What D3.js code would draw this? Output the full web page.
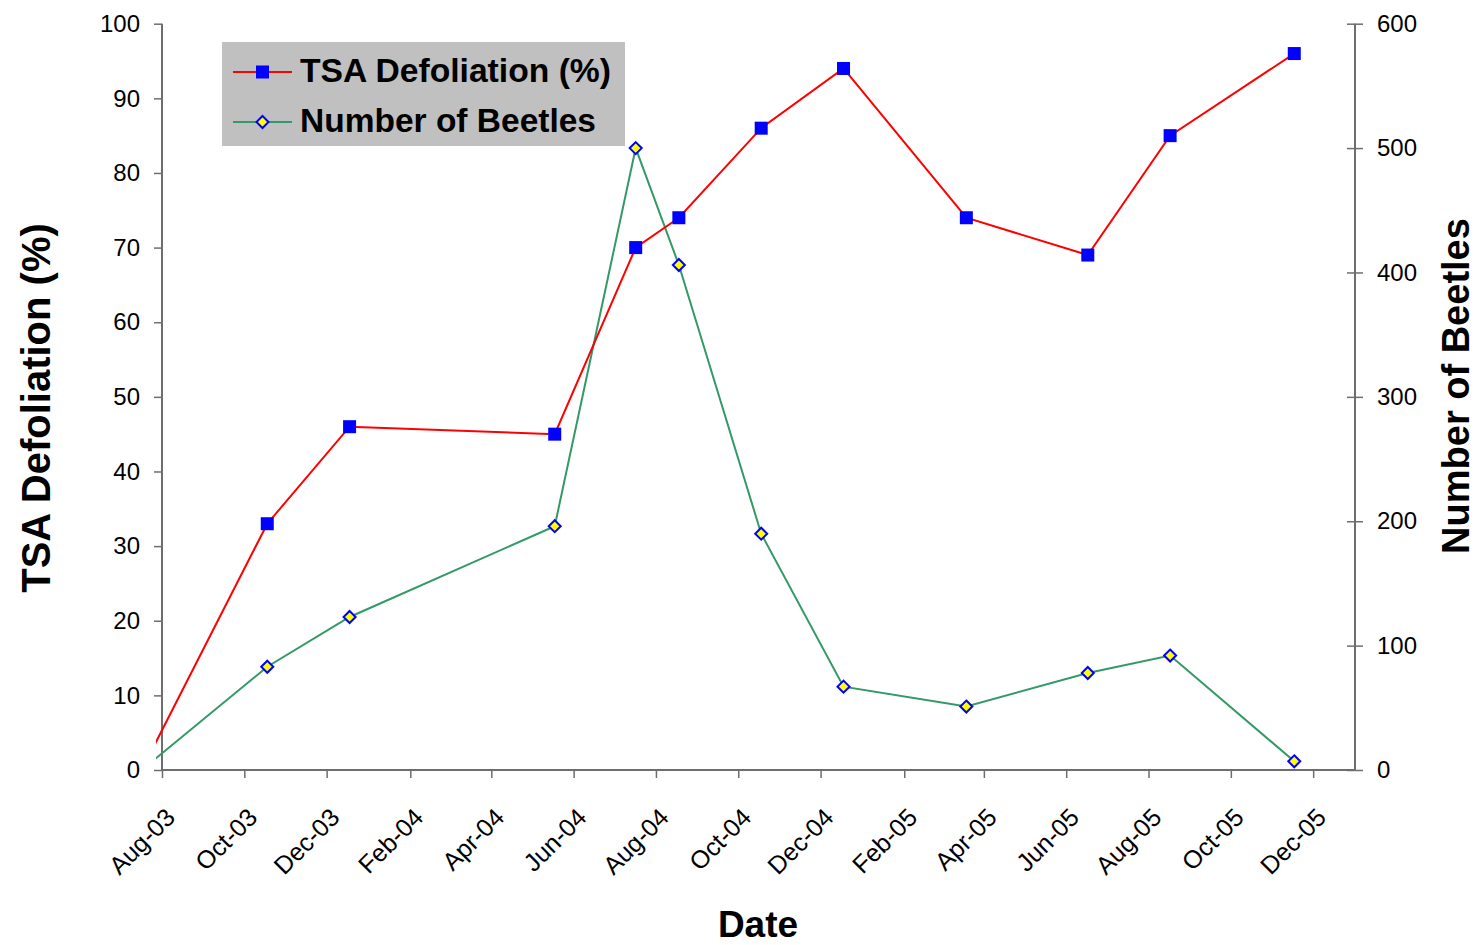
<!DOCTYPE html>
<html><head><meta charset="utf-8">
<script src="https://cdn.jsdelivr.net/npm/d3@7"></script>
<style>body{margin:0;background:#fff;} svg{display:block;font-family:"Liberation Sans",Arial,sans-serif;}</style>
</head><body><svg id="c" width="1478" height="945"></svg>
<script>
const dates = ["2003-07-17","2003-10-18","2003-12-18","2004-05-18","2004-07-17","2004-08-18","2004-10-18","2004-12-18","2005-03-19","2005-06-17","2005-08-17","2005-11-17"];
const defoliation = [0,33,46,45,70,74,86,94,74,69,85,96];
const beetles = [0,83,123,196,500,406,190,67,51,78,92,7];
const tickLabels = ["Aug-03","Oct-03","Dec-03","Feb-04","Apr-04","Jun-04","Aug-04","Oct-04","Dec-04","Feb-05","Apr-05","Jun-05","Aug-05","Oct-05","Dec-05"];
const leftTicks = [0,10,20,30,40,50,60,70,80,90,100];
const rightTicks = [0,100,200,300,400,500,600];

const parse = d3.timeParse("%Y-%m-%d");
const svg = d3.select("#c");
const L = 162, R = 1355, T = 23.7, B = 770;
const x = d3.scaleTime().domain([new Date(2003,7,1), new Date(2006,0,1)]).range([L,R]);
const yL = d3.scaleLinear().domain([0,100]).range([B,T]);
const yR = d3.scaleLinear().domain([0,600]).range([B,T]);
const tickDates = tickLabels.map(s => d3.timeParse("%b-%y")(s));
const axisColor = "#6e6e6e";

svg.append("defs").append("clipPath").attr("id","clip").append("rect")
  .attr("x",156).attr("y",0).attr("width",R-156+20).attr("height",B+10);

// Left axis
const gL = svg.append("g").attr("transform",`translate(${L},0)`)
  .call(d3.axisLeft(yL).tickValues(leftTicks).tickSize(8).tickPadding(14));
// Right axis
const gR = svg.append("g").attr("transform",`translate(${R},0)`)
  .call(d3.axisRight(yR).tickValues(rightTicks).tickSize(8).tickPadding(14));
gR.selectAll(".tick line").attr("x1",-8);
// Bottom axis
const gB = svg.append("g").attr("transform",`translate(0,${B})`)
  .call(d3.axisBottom(x).tickValues(tickDates).tickFormat(d3.timeFormat("%b-%y")).tickSize(8));

[gL,gR,gB].forEach(g=>{
  g.selectAll(".domain").attr("stroke",axisColor).attr("stroke-width",2);
  g.selectAll(".tick line").attr("stroke",axisColor).attr("stroke-width",1.5);
  g.selectAll(".tick text").attr("font-size",24).attr("fill","#000").attr("font-family","Liberation Sans, Arial, sans-serif");
});
gB.selectAll(".tick text").attr("text-anchor","end").attr("x",0).attr("y",0).attr("dy",0).attr("dx",0)
  .attr("font-size",25).attr("transform","translate(14,49) rotate(-45)");
gL.selectAll(".domain").attr("d",`M0,${B}V${T}`);
gR.selectAll(".domain").attr("d",`M0,${B}V${T}`);
gB.selectAll(".domain").attr("d",`M${L},0H${R}`);

const plot = svg.append("g").attr("clip-path","url(#clip)");
const dd = dates.map(parse);
const lineL = d3.line().x((d,i)=>x(dd[i])).y(d=>yL(d));
const lineR = d3.line().x((d,i)=>x(dd[i])).y(d=>yR(d));
plot.append("path").attr("d",lineR(beetles)).attr("fill","none").attr("stroke","#339966").attr("stroke-width",2);
plot.append("path").attr("d",lineL(defoliation)).attr("fill","none").attr("stroke","#ff0000").attr("stroke-width",2);
plot.selectAll(".sq").data(defoliation).join("rect")
  .attr("x",(d,i)=>x(dd[i])-6.5).attr("y",d=>yL(d)-6.5).attr("width",13).attr("height",13).attr("fill","#0000ff");
plot.selectAll(".dm").data(beetles).join("path")
  .attr("d",(d,i)=>{const cx=x(dd[i]),cy=yR(d),r=6;return `M${cx},${cy-r}L${cx+r},${cy}L${cx},${cy+r}L${cx-r},${cy}Z`;})
  .attr("fill","#ffff00").attr("stroke","#0000ff").attr("stroke-width",2);

// Legend
const lg = svg.append("g");
lg.append("rect").attr("x",222).attr("y",42).attr("width",403).attr("height",104).attr("fill","#c0c0c0");
lg.append("line").attr("x1",233).attr("x2",292).attr("y1",72).attr("y2",72).attr("stroke","#ff0000").attr("stroke-width",2);
lg.append("rect").attr("x",256).attr("y",65.5).attr("width",13).attr("height",13).attr("fill","#0000ff");
lg.append("line").attr("x1",233).attr("x2",292).attr("y1",122).attr("y2",122).attr("stroke","#339966").attr("stroke-width",2);
lg.append("path").attr("d","M262.5,116L268.5,122L262.5,128L256.5,122Z").attr("fill","#ffff00").attr("stroke","#0000ff").attr("stroke-width",2);
lg.append("text").attr("x",300).attr("y",82).attr("font-size",33.5).attr("font-weight","bold").attr("textLength",311).attr("lengthAdjust","spacingAndGlyphs").text("TSA Defoliation (%)");
lg.append("text").attr("x",300).attr("y",132).attr("font-size",33.5).attr("font-weight","bold").text("Number of Beetles");

// Titles
svg.append("text").attr("transform","translate(50,408) rotate(-90)").attr("text-anchor","middle")
  .attr("font-size",40).attr("font-weight","bold").text("TSA Defoliation (%)");
svg.append("text").attr("transform","translate(1469,386) rotate(-90)").attr("text-anchor","middle")
  .attr("font-size",38).attr("font-weight","bold").text("Number of Beetles");
svg.append("text").attr("x",758).attr("y",937).attr("text-anchor","middle")
  .attr("font-size",37).attr("font-weight","bold").text("Date");
</script></body></html>
